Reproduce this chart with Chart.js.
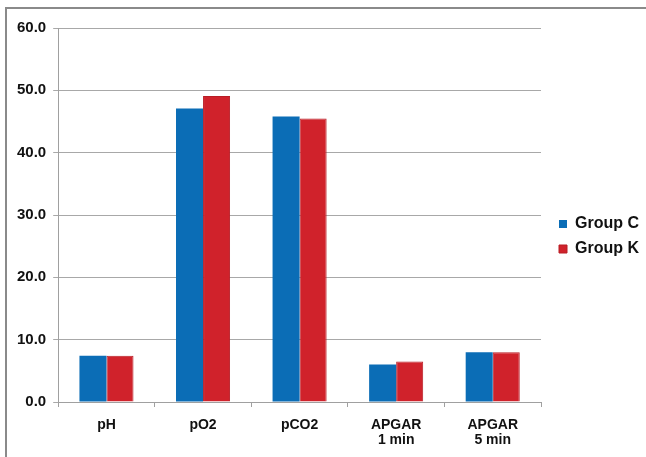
<!DOCTYPE html>
<html>
<head>
<meta charset="utf-8">
<script src="https://cdn.jsdelivr.net/npm/chart.js@4.4.1/dist/chart.umd.min.js"></script>
<style>
  html, body { margin: 0; padding: 0; background: #ffffff; }
  #wrap { position: relative; width: 646px; height: 457px; }
</style>
</head>
<body>
<div id="wrap"><canvas id="chart" width="646" height="457"></canvas></div>
<script>
// Blood gas and APGAR values for the two groups
const categories = ['pH', 'pO2', 'pCO2', ['APGAR', '1 min'], ['APGAR', '5 min']];
const groupC = [7.4, 47.1, 45.8, 6.0, 8.0];
const groupK = [7.4, 49.1, 45.5, 6.5, 8.0];
const yTicks = [0, 10, 20, 30, 40, 50, 60];

const FONT = "'Liberation Sans', Arial, Helvetica, sans-serif";

// Frame lines along the top and left edges of the figure
const framePlugin = {
  id: 'frame',
  beforeDraw(chart) {
    const ctx = chart.ctx;
    ctx.save();
    ctx.fillStyle = '#ffffff';
    ctx.fillRect(0, 0, chart.width, chart.height);
    ctx.restore();
  },
  afterDraw(chart) {
    const ctx = chart.ctx;
    ctx.save();
    ctx.strokeStyle = '#8a8a8a';
    ctx.lineWidth = 2;
    ctx.beginPath();
    ctx.moveTo(6, chart.height);
    ctx.lineTo(6, 8);
    ctx.lineTo(chart.width, 8);
    ctx.stroke();
    ctx.restore();
  }
};

// Leave a gap between the plot area and the legend entries, and lift them slightly
const legendGapPlugin = {
  id: 'legendGap',
  afterLayout(chart) {
    const lg = chart.legend;
    if (lg) {
      lg.left += 9;
      lg.right += 9;
      lg.top -= 6;
      lg.bottom -= 6;
    }
  }
};

new Chart(document.getElementById('chart'), {
  type: 'bar',
  data: {
    labels: categories,
    datasets: [
      {
        label: 'Group C',
        data: groupC,
        backgroundColor: '#0b6db6',
        borderColor: '#0b6db6',
        borderWidth: 0
      },
      {
        label: 'Group K',
        data: groupK,
        backgroundColor: '#d0222b',
        borderColor: '#b81d25',
        borderWidth: 1
      }
    ]
  },
  options: {
    responsive: false,
    animation: false,
    devicePixelRatio: 1,
    layout: { padding: { left: 10, top: 28, right: 6, bottom: 0 } },
    datasets: {
      bar: { barPercentage: 1.0, categoryPercentage: 0.56 }
    },
    plugins: {
      tooltip: { enabled: false },
      legend: {
        position: 'right',
        labels: {
          boxWidth: 8,
          boxHeight: 8,
          padding: 9,
          color: '#111111',
          font: { family: FONT, size: 16, weight: 'bold' }
        }
      }
    },
    scales: {
      x: {
        afterFit(axis) {
          axis.height = 55;
        },
        grid: {
          offset: true,
          drawOnChartArea: false,
          drawTicks: true,
          tickLength: 5,
          color: '#a0a0a0'
        },
        border: { color: '#a0a0a0', width: 1 },
        ticks: {
          color: '#111111',
          padding: 11,
          maxRotation: 0,
          font: { family: FONT, size: 14, weight: 'bold', lineHeight: 1.05 }
        }
      },
      y: {
        min: 0,
        max: 60,
        afterBuildTicks(axis) {
          axis.ticks = yTicks.map(v => ({ value: v }));
        },
        grid: {
          color: '#a8a8a8',
          lineWidth: 1,
          drawTicks: true,
          tickLength: 5
        },
        border: { color: '#a0a0a0', width: 1 },
        ticks: {
          color: '#111111',
          padding: 7,
          font: { family: FONT, size: 15, weight: 'bold' },
          callback: v => Number(v).toFixed(1)
        }
      }
    }
  },
  plugins: [framePlugin, legendGapPlugin]
});
</script>
</body>
</html>
